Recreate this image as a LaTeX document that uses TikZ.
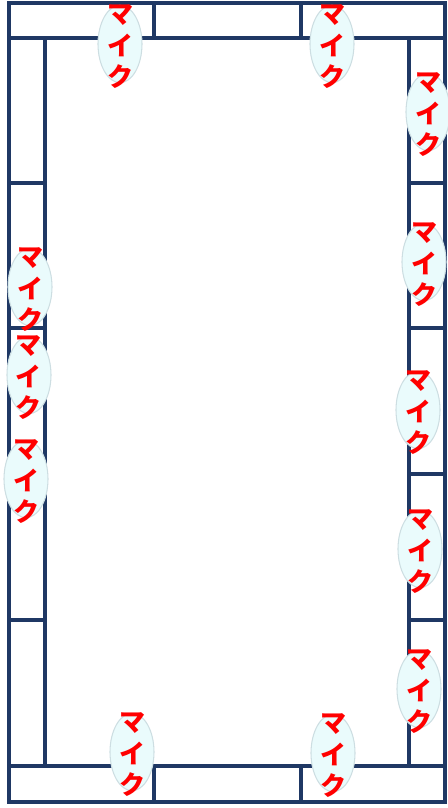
\documentclass[tikz,border=0pt]{standalone}
\usepackage{fontspec}
\newfontfamily\cjk{Noto Sans CJK JP}
\usetikzlibrary{shapes.geometric}
\definecolor{deskcol}{RGB}{31,56,100}
\definecolor{micfill}{RGB}{234,251,252}
\definecolor{micedge}{RGB}{205,222,226}
\tikzset{
  desk/.style={draw=deskcol, line width=2.3pt},
  micbody/.style={ellipse, fill=micfill, draw=micedge, line width=0.8pt,
    minimum width=33pt, minimum height=58pt, inner sep=0pt},
  miclabel/.style={text=red, align=center, inner sep=0pt,
    font=\cjk\bfseries\fontsize{19.5}{23.5}\selectfont}
}
\begin{document}
\begin{tikzpicture}[x=0.75pt,y=-0.75pt]
        \useasboundingbox (0,0) rectangle (448,808);
        % top and bottom rows
        \foreach \a/\b in {9/154,154/301,301/445}{
          \draw[desk] (\a,3) rectangle (\b,38);
          \draw[desk] (\a,766) rectangle (\b,802);
        }
        % left and right columns
        \foreach \a/\b in {38/183,183/328,328/620,620/766}
          \draw[desk] (9,\a) rectangle (45,\b);
        \foreach \a/\b in {38/183,183/328,328/474,474/620,620/766}
          \draw[desk] (409,\a) rectangle (445,\b);
        % microphones
        \foreach \n/\x/\y in {1/120/44,2/332/44,3/428/112,4/424/262,
            5/418/410,6/420/549,7/419/689,8/132/752,9/333/753,
            10/30/287,11/29/375,12/26/479}
          \node[micbody] (mic\n) at (\x,\y) {};
        \foreach \n in {1,...,12}
          \node[miclabel, yshift=-2pt] at (mic\n) {マ\\イ\\ク};
      \end{tikzpicture}
\end{document}
